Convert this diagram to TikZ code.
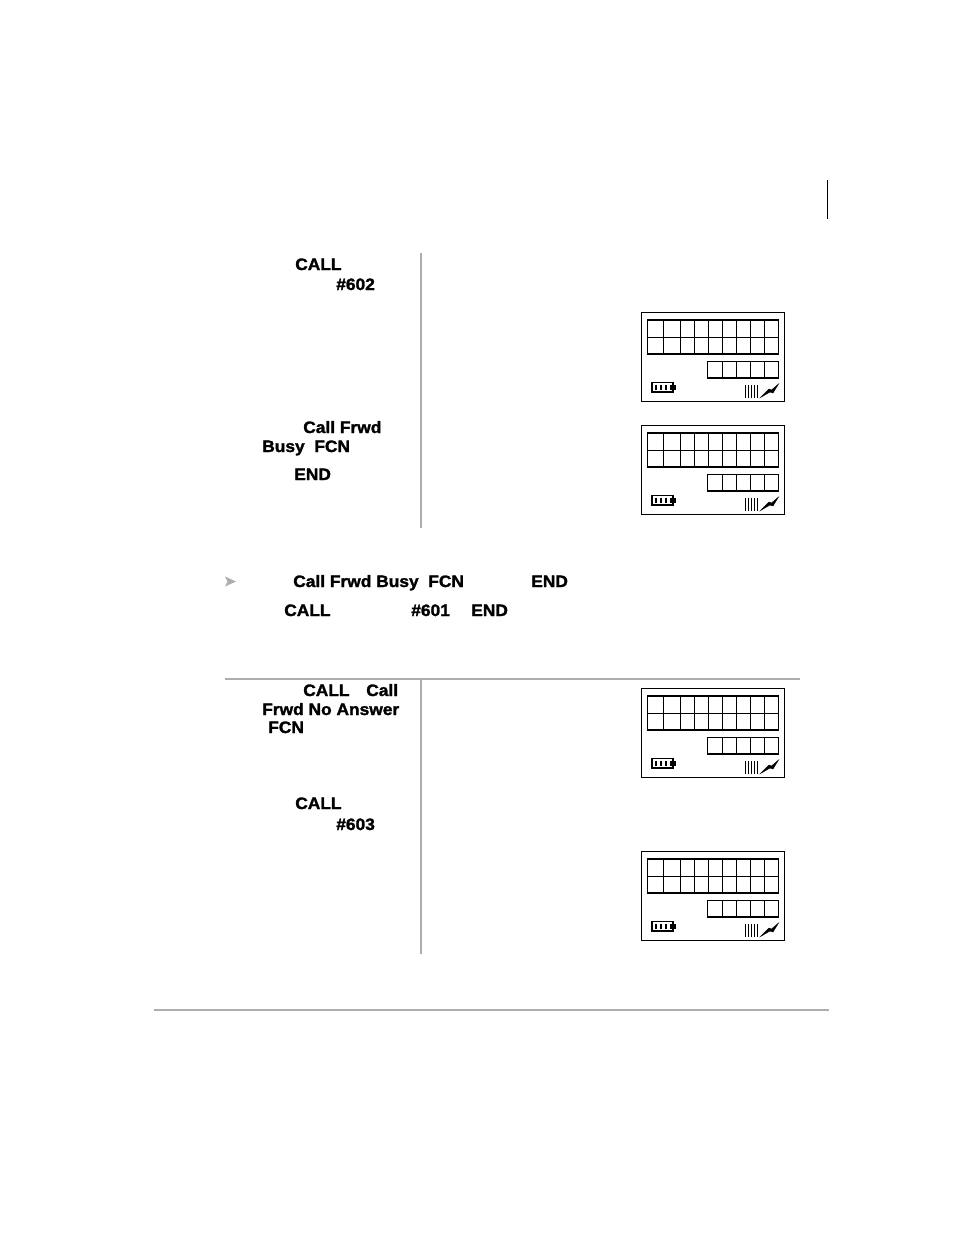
\documentclass[tikz,border=0pt]{standalone}
\usepackage{fontspec}
\setmainfont{Liberation Sans}[BoldFeatures={FakeBold=1.6,FakeStretch=1.05}]
\def\scale{0.75pt}
\def\tlist{{(295,-270)/calla/CALL}, {(336,-290)/numa/\#602}, {(303,-433)/frwda/Call Frwd}, {(262,-452)/busya/Busy\ \ FCN}, {(294,-480)/enda/END}, {(293,-587)/busyb/Call Frwd Busy\ \ FCN}, {(531,-587)/endb/END}, {(284,-616)/callb/CALL}, {(411,-616)/numb/\#601}, {(471,-616)/endc/END}, {(303,-696)/callc/CALL}, {(366,-696)/frwdb/Call}, {(262,-715)/noansw/Frwd No Answer}, {(268,-733)/fcnc/FCN}, {(295,-809)/calld/CALL}, {(336,-830)/numc/\#603}}
\tikzstyle{label}=[anchor=base west,inner sep=0pt,font=\fontsize{12.4pt}{14pt}\selectfont\bfseries]
\tikzstyle{rule}=[draw=black!32,line width=1.5pt]
\tikzstyle{thin}=[draw,line width=0.75pt]
\tikzstyle{thick}=[draw,line width=1.5pt]

\begin{document}
\begin{tikzpicture}[x=\scale,y=\scale]
  \useasboundingbox (0,0) rectangle (954,-1235);
  \foreach \pos/\name/\txt in \tlist {
    \node[label] (\name) at \pos {\txt};
  }

  \path[rule] (421,-253) -- (421,-528);
  \path[rule] (421,-680) -- (421,-954);
  \path[rule] (225,-679) -- (800,-679);
  \path[rule] (154,-1010) -- (829,-1010);
  \path[draw,line width=0.75pt] (827.5,-180) -- (827.5,-219);
  \path[fill=black!32] (225,-576.5) -- (236,-581.5) -- (225,-586.5) -- (227.5,-581.5) -- cycle;

  % one display for each top edge
  \foreach \top in {-312,-425,-688,-851} {
    \begin{scope}[shift={(641,\top)}]
      \path[thin] (0.5,-0.5) rectangle (143.5,-89.5);
      \path[thick] (6,-8) -- (138,-8);
      \path[thin] (6,-25.5) -- (138,-25.5);
      \path[thick] (6,-42) -- (138,-42);
      \foreach \x in {6.5,22.5,39.5,53.5,67.5,81.5,95.5,109.5,123.5,137.5} {
        \path[thin] (\x,-8) -- (\x,-42);
      }
      \path[thin] (66,-49.5) -- (138,-49.5);
      \path[thick] (66,-66) -- (138,-66);
      \foreach \x in {66.5,81.5,95.5,109.5,123.5,137.5} {
        \path[thin] (\x,-49.5) -- (\x,-66);
      }
      % battery
      \path[draw,line width=1.1pt] (11,-70.5) rectangle (32,-80);
      \path[fill] (32,-72.5) rectangle (35,-78);
      \foreach \x in {15.5,20.5,25.5,30} {
        \path[thick] (\x-0.5,-72.5) -- (\x-0.5,-77.5);
      }
      % signal bars
      \foreach \x in {104.5,107.5,110.5,113.5,116.5} {
        \path[draw,line width=0.6pt] (\x,-73) -- (\x,-86);
      }
      % bolt
      \path[draw,fill,line width=0.3pt] (119.5,-85.5) -- (128,-77) -- (130.5,-78) -- (137.5,-72) -- (132,-81) -- (129,-80) -- cycle;
    \end{scope}
  }
\end{tikzpicture}
\end{document}
